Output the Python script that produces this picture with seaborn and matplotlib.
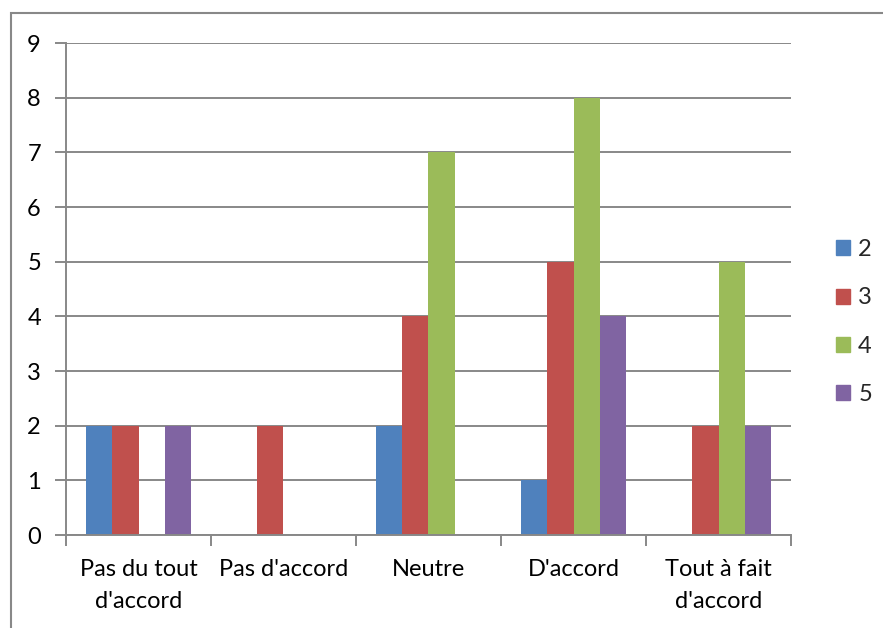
import matplotlib
matplotlib.use("Agg")
import matplotlib.pyplot as plt
import matplotlib.patches as mpatches
from matplotlib.ticker import FixedLocator
import seaborn as sns
import pandas as pd

categories = ["Pas du tout\nd'accord", "Pas d'accord", "Neutre", "D'accord", "Tout à fait\nd'accord"]
series_names = ["2", "3", "4", "5"]
s2 = [2, 0, 2, 1, 0]
s3 = [2, 2, 4, 5, 2]
s4 = [0, 0, 7, 8, 5]
s5 = [2, 0, 0, 4, 2]
colors = ["#4F81BD", "#C0504D", "#9BBB59", "#8064A2"]
yticks = list(range(0, 10))

rows = []
for name, vals in zip(series_names, [s2, s3, s4, s5]):
    for c, v in zip(categories, vals):
        rows.append({"cat": c, "serie": name, "val": v})
df = pd.DataFrame(rows)

sns.set_theme(style="white")
plt.rcParams["font.family"] = ["Lato", "DejaVu Sans"]

fig = plt.figure(figsize=(8.83, 6.28), dpi=100)
ax = fig.add_axes([66/883, 1-535/628, (791-66)/883, (535-43)/628])

sns.barplot(data=df, x="cat", y="val", hue="serie", order=categories,
            hue_order=series_names, palette=colors, width=0.72, gap=0,
            saturation=1, ax=ax, legend=False, linewidth=0)

gray = "#888888"
fs = 17
ax.set_ylim(0, 9)
ax.set_xlim(-0.5, 4.5)
ax.set_yticks(yticks)
ax.yaxis.grid(True, color=gray, linewidth=1.4)
ax.set_axisbelow(True)
for s in ["top", "right"]:
    ax.spines[s].set_visible(False)
for s in ["left", "bottom"]:
    ax.spines[s].set_color(gray)
    ax.spines[s].set_linewidth(1.4)
ax.set_xlabel("")
ax.set_ylabel("")
ax.tick_params(axis="y", which="major", length=8, width=1.4, color=gray,
               labelsize=fs, pad=10, labelcolor="black", left=True)
ax.tick_params(axis="x", which="major", length=0, labelsize=fs, pad=17,
               labelcolor="black")
ax.xaxis.set_minor_locator(FixedLocator([-0.5, 0.5, 1.5, 2.5, 3.5, 4.5]))
ax.tick_params(axis="x", which="minor", length=8, width=1.4, color=gray,
               bottom=True)
for lbl in ax.get_xticklabels():
    lbl.set_linespacing(1.65)

handles = [mpatches.Patch(color=c, label=n) for c, n in zip(colors, series_names)]
fig.legend(handles=handles, loc="center left", bbox_to_anchor=(824/883, 1-322/628),
           frameon=False, fontsize=fs, handlelength=0.6, handleheight=0.6,
           labelspacing=1.15, handletextpad=0.35, borderpad=0)

border = mpatches.Rectangle((11/883, -0.2), 2, (628-13)/628 + 0.2,
                            transform=fig.transFigure, fill=False,
                            edgecolor=gray, linewidth=1.5, clip_on=False)
fig.patches.append(border)

fig.savefig("out.png", dpi=100)
